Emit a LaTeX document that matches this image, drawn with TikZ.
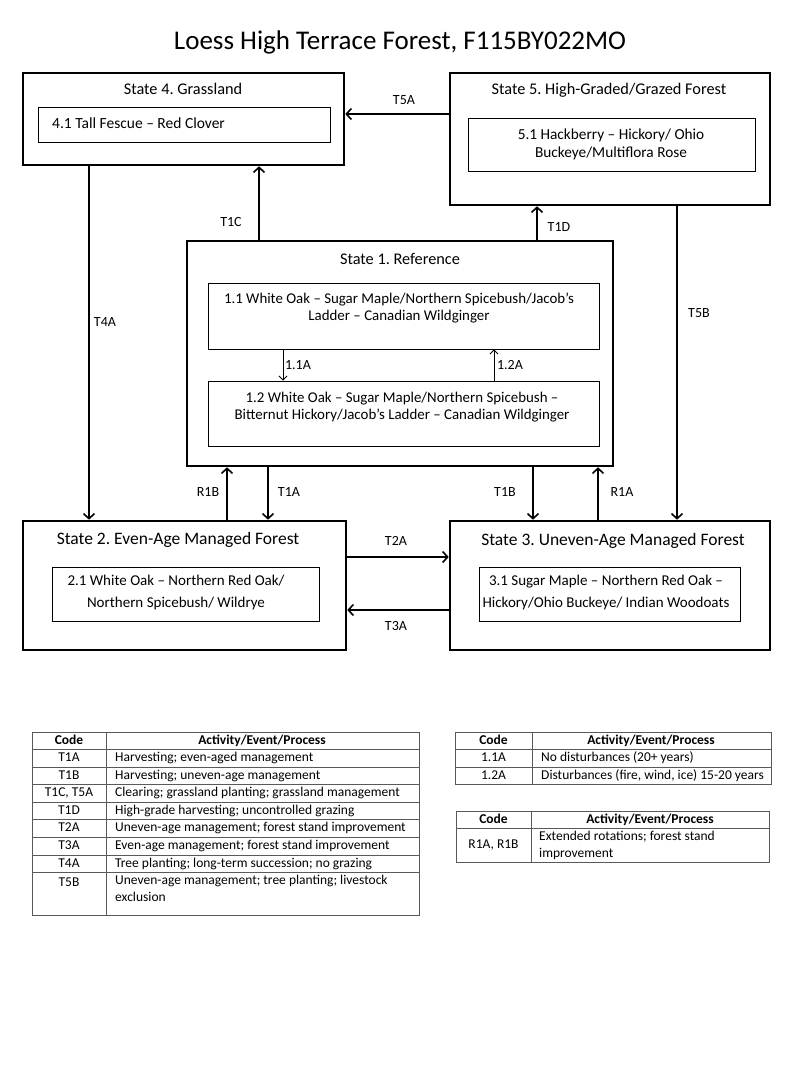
\documentclass[tikz,border=0pt]{standalone}
\usepackage{fontspec}
\setmainfont{Carlito}
\frenchspacing
\usetikzlibrary{arrows.meta}

\begin{document}
\begin{tikzpicture}[x=1pt,y=-1pt,
    state/.style={draw,line width=2.6pt,inner sep=0pt},
    comm/.style={draw,line width=0.9pt,inner sep=0pt},
    ttl/.style={font=\fontsize{16.3}{19}\selectfont},
    txt/.style={font=\fontsize{14.9}{17.5}\selectfont,align=center,inner sep=0pt},
    lbl/.style={font=\fontsize{14}{16}\selectfont,inner sep=0pt},
    arr/.style={line width=1.6pt,-{Straight Barb[length=5pt,width=11pt]}},
    thinarr/.style={line width=0.8pt,-{Straight Barb[length=4pt,width=8pt]}},
    tbl/.style={line width=1pt,draw=black!65},
    cell/.style={font=\fontsize{13.5}{17}\selectfont,inner sep=0pt,text height=9.5pt,text depth=3pt},
    head/.style={cell,font=\bfseries\fontsize{13.5}{17}\selectfont}]
    \useasboundingbox (0,0) rectangle (800,1067);

    \node[font=\fontsize{27}{32}\selectfont] (title) at (400,42) {Loess High Terrace Forest, F115BY022MO};

    \node[state,minimum width=321pt,minimum height=92pt] (s4) at (183.5,119) {};
    \node[state,minimum width=320pt,minimum height=132pt] (s5) at (610,139) {};
    \node[state,minimum width=426pt,minimum height=225pt] (s1) at (400,353.5) {};
    \node[state,minimum width=323pt,minimum height=129pt] (s2) at (184.5,585.5) {};
    \node[state,minimum width=320pt,minimum height=129pt] (s3) at (610,585.5) {};

    \node[ttl] (t4) at (183,89) {State 4. Grassland};
    \node[ttl] (t5) at (609,90) {State 5. High-Graded/Grazed Forest};
    \node[ttl] (t1) at (400,259) {State 1. Reference};
    \node[ttl,font=\fontsize{17.5}{20}\selectfont] (t2) at (178,540) {State 2. Even-Age Managed Forest};
    \node[ttl,font=\fontsize{17.5}{20}\selectfont] (t3) at (613,541) {State 3. Uneven-Age Managed Forest};

    \node[comm,minimum width=292pt,minimum height=35pt] (b41) at (184,124.5) {};
    \node[comm,minimum width=287pt,minimum height=53pt] (b51) at (611.5,144.5) {};
    \node[comm,minimum width=391pt,minimum height=66pt] (b11) at (403.5,316) {};
    \node[comm,minimum width=391pt,minimum height=65pt] (b12) at (403.5,413.5) {};
    \node[comm,minimum width=267pt,minimum height=54pt] (b21) at (185.5,594) {};
    \node[comm,minimum width=261pt,minimum height=54pt] (b31) at (609.5,594) {};

    \node[txt,anchor=west,font=\fontsize{15.5}{18}\selectfont] (p41) at (52,123) {4.1 Tall Fescue -- Red Clover};
    \node[txt,font=\fontsize{15.3}{18}\selectfont] (p51) at (611,144) {5.1 Hackberry -- Hickory/ Ohio\\Buckeye/Multiflora Rose};
    \node[txt] (p11) at (399,308) {1.1 White Oak -- Sugar Maple/Northern Spicebush/Jacob’s\\Ladder -- Canadian Wildginger};
    \node[txt] (p12) at (402,407) {1.2 White Oak -- Sugar Maple/Northern Spicebush --\\Bitternut Hickory/Jacob’s Ladder -- Canadian Wildginger};
    \node[txt,font=\fontsize{15}{22}\selectfont] (p21) at (176,592) {2.1 White Oak -- Northern Red Oak/\\Northern Spicebush/ Wildrye};
    \node[txt,font=\fontsize{15}{22}\selectfont] (p31) at (606,592) {3.1 Sugar Maple -- Northern Red Oak --\\Hickory/Ohio Buckeye/ Indian Woodoats};

    \draw[arr] (s5.west |- 0,114) -- (s4.east |- 0,114);
    \draw[arr] (s1.north -| 259,0) -- (s4.south -| 259,0);
    \draw[arr] (s4.south -| 89,0) -- (s2.north -| 89,0);
    \draw[arr] (s1.north -| 537,0) -- (s5.south -| 537,0);
    \draw[arr] (s5.south -| 677,0) -- (s3.north -| 677,0);
    \draw[arr] (s2.north -| 227,0) -- (s1.south -| 227,0);
    \draw[arr] (s1.south -| 268,0) -- (s2.north -| 268,0);
    \draw[arr] (s1.south -| 533,0) -- (s3.north -| 533,0);
    \draw[arr] (s3.north -| 598,0) -- (s1.south -| 598,0);
    \draw[arr] (s2.east |- 0,557) -- (s3.west |- 0,557);
    \draw[arr] (s3.west |- 0,610) -- (s2.east |- 0,610);
    \draw[thinarr] (b11.south -| 283,0) -- (b12.north -| 283,0);
    \draw[thinarr] (b12.north -| 494,0) -- (b11.south -| 494,0);

    \node[lbl] (l5a) at (404,100) {T5A};
    \node[lbl] (l1c) at (231,222) {T1C};
    \node[lbl] (l4a) at (105,322) {T4A};
    \node[lbl] (l1d) at (559,227) {T1D};
    \node[lbl] (l5b) at (699,313) {T5B};
    \node[lbl] (lr1b) at (208,492) {R1B};
    \node[lbl] (l1a) at (289,492) {T1A};
    \node[lbl] (l1b) at (505,492) {T1B};
    \node[lbl] (lr1a) at (622,492) {R1A};
    \node[lbl] (l2a) at (396,541) {T2A};
    \node[lbl] (l3a) at (396,626) {T3A};
    \node[lbl] (l11a) at (298,365) {1.1A};
    \node[lbl] (l12a) at (510,365) {1.2A};

    \draw[tbl] (32,732) rectangle (419,915);
    \draw[tbl] (106,732) -- (106,915);
    \foreach \y in {749.5,767.1,784.7,802.3,819.9,837.5,855.1,872.7}
        \draw[tbl] (32,\y) -- (419,\y);
    \node[head] at (69,741) {Code};
    \node[head] at (262,741) {Activity/Event/Process};
    \foreach \c/\t [count=\i] in {T1A/Harvesting; even-aged management,
        T1B/Harvesting; uneven-age management,
        {T1C, T5A}/Clearing; grassland planting; grassland management,
        T1D/High-grade harvesting; uncontrolled grazing,
        T2A/Uneven-age management; forest stand improvement,
        T3A/Even-age management; forest stand improvement,
        T4A/Tree planting; long-term succession; no grazing} {
        \node[cell] at (69,{749.5+17.6*(\i-0.5)}) {\c};
        \node[cell,anchor=west] at (115,{749.5+17.6*(\i-0.5)}) {\t};
    }
    \node[cell] at (69,883) {T5B};
    \node[cell,anchor=north west,align=left,text height=,text depth=] at (115,875) {Uneven-age management; tree planting; livestock\\exclusion};

    \draw[tbl] (455,732) rectangle (771,784.5);
    \draw[tbl] (532,732) -- (532,784.5);
    \draw[tbl] (455,749.5) -- (771,749.5);
    \draw[tbl] (455,767) -- (771,767);
    \node[head] at (493.5,741) {Code};
    \node[head] at (651,741) {Activity/Event/Process};
    \node[cell] at (493.5,758.3) {1.1A};
    \node[cell,anchor=west] at (541,758.3) {No disturbances (20+ years)};
    \node[cell] at (493.5,775.8) {1.2A};
    \node[cell,anchor=west] at (541,775.8) {Disturbances (fire, wind, ice) 15-20 years};

    \draw[tbl] (456,811) rectangle (769,862);
    \draw[tbl] (531,811) -- (531,862);
    \draw[tbl] (456,828.5) -- (769,828.5);
    \node[head] at (493.5,820) {Code};
    \node[head] at (650,820) {Activity/Event/Process};
    \node[cell] at (493.5,845.5) {R1A, R1B};
    \node[cell,anchor=west,align=left,text height=,text depth=] at (539,845.5) {Extended rotations; forest stand\\improvement};
\end{tikzpicture}
\end{document}
